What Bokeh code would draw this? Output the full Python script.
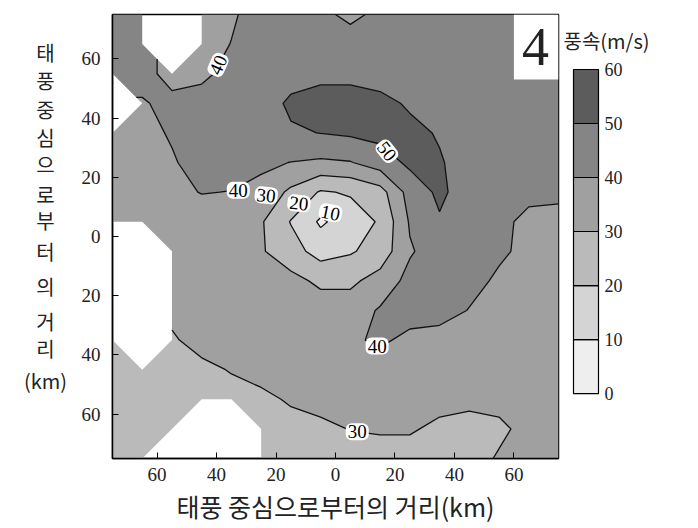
import numpy as np
from bokeh.plotting import figure
from bokeh.layouts import row
from bokeh.models import FixedTicker, Label, BoxAnnotation
from bokeh.core.properties import value
from bokeh.embed import file_html
from bokeh.resources import INLINE

N = float("nan")  # no data (white)

# grid of distances from the typhoon centre (km)
x_km = [-75, -65, -55, -45, -35, -25, -15, -5, 5, 15, 25, 35, 45, 55, 65, 75]
y_km = [75, 65, 55, 45, 35, 25, 15, 5, -5, -15, -25, -35, -45, -55, -65, -75]

# wind speed (m/s), one row per y_km value (top to bottom)
wind_speed = [
    [45, 45, N, 35, 38.5, 45, 45, 42, 38, 42, 45, 45, 45, 45, 45, 45],
    [45, 44, N, 35, 40.3, 45, 45, 45, 44, 45, 45, 45, 45, 45, 45, 45],
    [44, 44, 36, 37.3, 44, 45, 46, 47, 47, 45, 45, 45, 45, 45, 45, 45],
    [N, 39, 43, 45, 45, 45, 51.8, 55, 55, 53.3, 48.5, 45, 45, 45, 45, 45],
    [37, 37, 41, 45, 45, 45, 48.8, 50.2, 51.5, 53, 53, 49, 45, 45, 45, 45],
    [36, 37, 39, 44, 44, 42, 39.8, 38.5, 39.5, 45, 52, 51, 45, 45, 45, 45],
    [36, 37, 38, 40.3, 39.8, 37, 28, 19, 21, 26, 44, 52, 45, 45, 43, 42],
    [36, 37, 37, 36, 36, 31, 19.5, 8.5, 15, 21, 41, 49, 45, 43, 37, 37],
    [N, N, 36, 36, 36, 31, 24, 16, 19, 24, 39, 45, 45, 42, 37, 37],
    [N, N, 36, 36, 36, 35, 33, 28, 28, 34, 43, 45, 44, 38, 36, 36],
    [N, N, 32, 35, 35, 35, 35, 35, 35, 41, 45, 45, 39.5, 36, 36, 36],
    [26, N, 29, 33, 35, 35, 35, 35, 38, 42, 37, 35, 35, 35, 35, 35],
    [26, 26, 26, 28, 30.5, 33, 35, 35, 35, 34, 35, 35, 35, 35, 35, 35],
    [26, 26, 26, 26, 27, 28, 31, 33, 34, 34, 33, 33, 32, 33, 34, 35],
    [26, 26, 26, N, N, 26, 27, 28, 30.3, 31, 31, 28, 27, 28, 33, 34],
    [26, 26, N, N, N, 26, 26, 26, 26, 26, 26, 26, 26, 31, 33, 34],
]

levels = [0, 10, 20, 30, 40, 50, 60]
level_colors = ["#eeeeee", "#d4d4d4", "#bababa", "#a0a0a0", "#858585", "#5c5c5c"]
level_labels = ["0", "10", "20", "30", "40", "50", "60"]

tick_values = [-60, -40, -20, 0, 20, 40, 60]
tick_labels = ["60", "40", "20", "0", "20", "40", "60"]

# contour labels
clabel_x = [-39.5, -32.7, -23.3, -12.3, -1.7, 17.3, 14.0, 7.3]
clabel_y = [58.0, 15.6, 13.9, 11.2, 8.0, 28.8, -37.0, -66.0]
clabel_text = ["40", "40", "30", "20", "10", "50", "40", "30"]
clabel_angle = [1.15, 0.0, -0.1, -0.1, -0.2, -0.9, 0.0, 0.0]

# vertical (stacked) y-axis title and its character rows (pixels from the top)
y_title_chars = ["태", "풍", "중", "심", "으", "로", "부", "터", "의", "거", "리", "(km)"]
y_title_rows = [53, 81, 111, 139, 167, 197, 224, 255, 291, 327, 354, 387]

H = 518
FRAME_T, FRAME_B = 14, 458          # plot frame rows (all figures in the row share them)
LEFT_W, MAIN_L, FRAME_W, MAIN_R, CB_W = 76, 36, 446, 2, 128


def bare(fig):
    fig.axis.visible = False
    fig.grid.visible = False
    fig.outline_line_color = None
    return fig


# ---- stacked y title ----
p_left = bare(figure(width=LEFT_W, height=H, x_range=(0, LEFT_W), y_range=(FRAME_B, FRAME_T),
                     output_backend="svg", toolbar_location=None, tools="",
                     min_border=0))
p_left.text(x=[45] * len(y_title_chars), y=y_title_rows, text=y_title_chars,
            text_align="center", text_baseline="middle",
            text_font=value("Noto Sans CJK KR"), text_font_size="20px", text_color="#222222")

# ---- main contour plot ----
x = np.array(x_km, dtype=float)
y = np.array(y_km[::-1], dtype=float)
z = np.array(wind_speed[::-1], dtype=float)

p = figure(frame_width=FRAME_W, frame_height=FRAME_B - FRAME_T, x_range=(-75, 75),
           y_range=(-75, 75), output_backend="svg", toolbar_location=None, tools="",
           min_border_left=MAIN_L, min_border_top=FRAME_T, min_border_right=MAIN_R,
           min_border_bottom=5, background_fill_color="white", border_fill_color="white")
p.grid.visible = False
p.outline_line_color = "black"
p.outline_line_width = 1.5

cr = p.contour(x=x, y=y, z=z, levels=levels, fill_color=level_colors,
               line_color="#111111", line_width=1.3)

# panel number box
p.add_layout(BoxAnnotation(left=60, right=75, bottom=53, top=75, fill_color="white",
                           fill_alpha=1.0, line_color=None, level="overlay"))
p.add_layout(Label(x=67.3, y=64, text="4", text_align="center", text_baseline="middle",
                   text_font="Liberation Serif", text_font_size="54px", text_color="#222222",
                   level="overlay"))

p.text(x=clabel_x, y=clabel_y, text=clabel_text, angle=clabel_angle,
       text_align="center", text_baseline="middle",
       text_font=value("Liberation Serif"), text_font_size="19px", text_color="black",
       background_fill_color="white", padding=2, border_radius=6)

for ax in (p.xaxis[0], p.yaxis[0]):
    ax.ticker = FixedTicker(ticks=tick_values)
    ax.major_label_overrides = {t: l for t, l in zip(tick_values, tick_labels)}
    ax.major_tick_in = 6
    ax.major_tick_out = 0
    ax.minor_tick_line_color = None
    ax.major_label_text_font = "Liberation Serif"
    ax.major_label_text_font_size = "19px"
    ax.major_label_text_color = "#222222"
    ax.axis_line_color = "black"
    ax.axis_line_width = 1.5
    ax.major_tick_line_color = "black"

p.xaxis.major_label_standoff = 9
p.yaxis.major_label_standoff = 12
p.xaxis.axis_label = "태풍 중심으로부터의 거리(km)"
p.xaxis.axis_label_text_font = "Noto Sans CJK KR"
p.xaxis.axis_label_text_font_size = "25px"
p.xaxis.axis_label_text_font_style = "normal"
p.xaxis.axis_label_text_color = "#222222"
p.xaxis.axis_label_standoff = 4

# ---- colour bar (value axis: 0 at row 400, 60 at row 70) ----
px_per_unit = (400 - 70) / (levels[-1] - levels[0])
cb_lo = levels[0] - (FRAME_B - 400) / px_per_unit
cb_hi = levels[-1] + (70 - FRAME_T) / px_per_unit
p_cb = bare(figure(width=CB_W, height=H, x_range=(0, CB_W), y_range=(cb_lo, cb_hi),
                   output_backend="svg", toolbar_location=None, tools="", min_border=0))
p_cb.quad(left=13, right=38, bottom=levels[:-1], top=levels[1:], fill_color=level_colors,
          line_color="black", line_width=1.2)
p_cb.text(x=[44] * len(levels), y=levels, text=level_labels,
          text_align="left", text_baseline="middle",
          text_font=value("Liberation Serif"), text_font_size="18px", text_color="#222222")
p_cb.text(x=[3], y=[cb_hi - (40 - FRAME_T) / px_per_unit], text=["풍속(m/s)"],
          text_align="left", text_baseline="middle",
          text_font=value("Noto Sans CJK KR"), text_font_size="20px", text_color="#222222")

layout = row(p_left, p, p_cb)
open("out.html", "w").write(file_html(layout, INLINE))
